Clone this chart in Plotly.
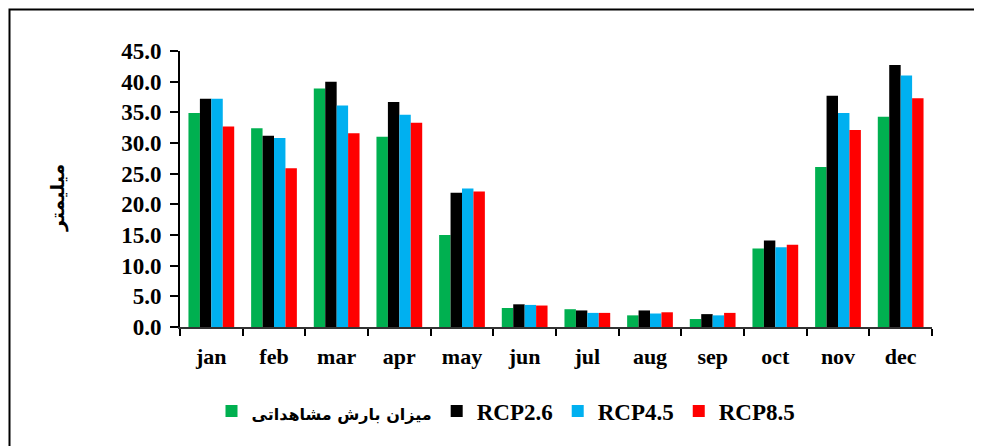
import plotly.graph_objects as go

months = ["jan", "feb", "mar", "apr", "may", "jun", "jul", "aug", "sep", "oct", "nov", "dec"]
observed = [34.9, 32.4, 38.9, 31.0, 15.0, 3.1, 2.9, 1.9, 1.3, 12.8, 26.1, 34.3]
rcp26 = [37.2, 31.2, 40.0, 36.7, 21.9, 3.7, 2.7, 2.7, 2.1, 14.1, 37.7, 42.7]
rcp45 = [37.2, 30.8, 36.1, 34.6, 22.6, 3.6, 2.3, 2.2, 1.9, 13.0, 34.9, 41.0]
rcp85 = [32.7, 25.9, 31.6, 33.3, 22.1, 3.5, 2.3, 2.4, 2.3, 13.4, 32.1, 37.3]

series_names = ["میزان بارش مشاهداتی", "RCP2.6", "RCP4.5", "RCP8.5"]
series_colors = ["#00B050", "#000000", "#00B0F0", "#FF0000"]
series_values = [observed, rcp26, rcp45, rcp85]

y_ticks = [0, 5, 10, 15, 20, 25, 30, 35, 40, 45]
y_title = "میلیمتر"

serif = "Liberation Serif"

# page body has an 8px margin; plot area should sit at x 180..932, y 51..327 of the window
OFF = 8
PL, PR, PT, PB = 180, 932, 51, 327
PW, PH = PR - PL, PB - PT


def px_x(x):
    return (x - PL) / PW


def px_y(y):
    return (PB - y) / PH


fig = go.Figure()
for name, color, vals in zip(series_names, series_colors, series_values):
    if name == series_names[0]:
        label = '<span style="font-family:DejaVu Sans; font-size:16px"><b>' + name + '</b></span>'
    else:
        label = '<b>' + name + '</b>'
    fig.add_trace(go.Bar(
        x=months, y=vals, name=label,
        marker=dict(color=color, line=dict(width=0)),
    ))

fig.update_layout(
    width=982, height=446,
    margin=dict(l=PL - OFF, r=982 - (PR - OFF), t=PT - OFF, b=446 - (PB - OFF)),
    paper_bgcolor="white", plot_bgcolor="white",
    barmode="group", bargap=0.27, bargroupgap=0,
    showlegend=True,
    legend=dict(
        orientation="h", x=px_x(506), xanchor="center", y=px_y(411), yanchor="middle",
        font=dict(family=serif, size=23, color="black", weight="bold"),
        itemwidth=30, traceorder="normal",
    ),
    font=dict(family=serif, color="black"),
    xaxis=dict(
        type="category", tickson="boundaries",
        showline=True, linecolor="#333333", linewidth=2,
        ticks="outside", ticklen=7, tickwidth=2, tickcolor="black",
        tickfont=dict(family=serif, size=22, color="black", weight="bold"),
        showgrid=False, zeroline=False, fixedrange=True,
        ticklabelstandoff=9,
    ),
    xaxis2=dict(
        overlaying="x", type="linear", range=[-0.5, 11.5],
        tickmode="array", tickvals=[i - 0.5 for i in range(13)],
        ticks="inside", ticklen=6, tickwidth=2, tickcolor="black",
        showticklabels=False, showline=False, showgrid=False, zeroline=False,
        anchor="y", side="bottom",
    ),
    yaxis=dict(
        range=[0, 45], tickmode="array", tickvals=y_ticks,
        ticktext=[f"{v:.1f}" for v in y_ticks],
        showline=True, linecolor="black", linewidth=2,
        ticks="outside", ticklen=8, tickwidth=2, tickcolor="black",
        tickfont=dict(family=serif, size=23, color="black", weight="bold"),
        showgrid=False, zeroline=False, ticklabelstandoff=4,
    ),
    yaxis2=dict(
        overlaying="y", range=[0, 45], tickmode="array", tickvals=y_ticks,
        ticks="inside", ticklen=8, tickwidth=2, tickcolor="black",
        showticklabels=False, showline=False, showgrid=False, zeroline=False,
        anchor="x", side="left",
    ),
    annotations=[dict(
        text="<b>" + y_title + "</b>", xref="paper", yref="paper",
        x=px_x(58), y=px_y(198), xanchor="center", yanchor="middle",
        textangle=-90, showarrow=False,
        font=dict(family="DejaVu Sans", size=19, color="black"),
    )],
    shapes=[dict(
        type="rect", xref="paper", yref="paper",
        x0=px_x(9.5), x1=1.3, y0=-0.7, y1=px_y(9.5),
        line=dict(color="black", width=2), fillcolor="rgba(0,0,0,0)", layer="below",
    )],
)

fig.write_html("out.html")
